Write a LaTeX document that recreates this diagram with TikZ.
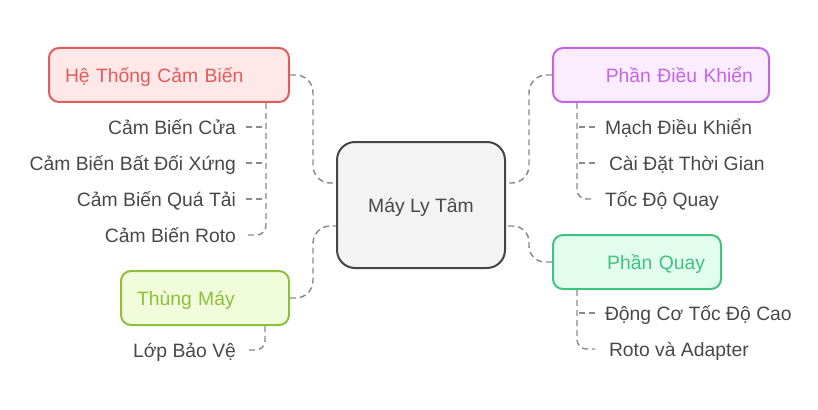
\documentclass[tikz,border=0pt]{standalone}
\usepackage{fontspec}
\setmainfont{Liberation Sans}
\definecolor{txt}{HTML}{484848}
\definecolor{ln}{HTML}{8A8A8A}
\definecolor{redB}{HTML}{E25C5C}\definecolor{redF}{HTML}{FFE8E8}
\definecolor{purB}{HTML}{C565E6}\definecolor{purF}{HTML}{F9EDFF}
\definecolor{grnB}{HTML}{3EC47E}\definecolor{grnF}{HTML}{E2FCEE}
\definecolor{limB}{HTML}{8EBE3C}\definecolor{limF}{HTML}{F1FDDA}
\definecolor{cenB}{HTML}{454545}\definecolor{cenF}{HTML}{F3F3F3}
\begin{document}
\begin{tikzpicture}[x=0.75pt,y=-0.75pt,
  every node/.style={font=\fontsize{14.5pt}{17pt}\selectfont, text height=13pt, text depth=2pt},
  box/.style={draw=#1B, fill=#1F, text=#1B, line width=1.5pt, rounded corners=7.5pt,
     minimum height=40.5pt, inner xsep=12pt},
  leaf/.style={text=txt, inner sep=0pt, outer xsep=7.5pt},
  conn/.style={draw=ln, line width=1.1pt, dash pattern=on 4.5pt off 3pt}]
\useasboundingbox (0,0) rectangle (818,410);
% central
\node[draw=cenB, fill=cenF, text=txt, line width=1.5pt, rounded corners=13.5pt,
  minimum width=126pt, minimum height=94.5pt] (c) at (421,205) {Máy Ly Tâm};
% main branches
\node[box=red, minimum width=180pt, text width=156pt, align=left] (hs) at (169,75) {Hệ Thống Cảm Biến};
\node[box=pur, minimum width=162pt, text width=138pt, align=right] (dk) at (661,75) {Phần Điều Khiển};
\node[box=grn, minimum width=126pt, text width=102pt, align=right] (pq) at (637,262) {Phần Quay};
\node[box=lim, minimum width=126pt, text width=102pt, align=left] (tm) at (205,298) {Thùng Máy};
% center ports and bends
\coordinate (cl1) at ([yshift=16.5pt]c.west);
\coordinate (cl2) at ([yshift=-15.75pt]c.west);
\coordinate (cr1) at ([yshift=16.5pt]c.east);
\coordinate (cr2) at ([yshift=-15.75pt]c.east);
\coordinate (ml) at (313,0);
\coordinate (mr) at (529,0);
\draw[conn, rounded corners=13pt] (hs.east) -- (hs.east -| ml) -- (ml |- cl1) -- (cl1);
\draw[conn, rounded corners=13pt] (tm.east) -- (tm.east -| ml) -- (ml |- cl2) -- (cl2);
\draw[conn, rounded corners=13pt] (dk.west) -- (dk.west -| mr) -- (mr |- cr1) -- (cr1);
\draw[conn, rounded corners=12pt] (pq.west) -- (pq.west -| mr) -- (mr |- cr2) -- (cr2);
% leaves left
\coordinate (vl) at (266,0);
\coordinate (vt) at (265,0);
\node[leaf, anchor=east] (h1) at (246,127) {Cảm Biến Cửa};
\node[leaf, anchor=east] (h2) at (246,163) {Cảm Biến Bất Đối Xứng};
\node[leaf, anchor=east] (h3) at (246,199) {Cảm Biến Quá Tải};
\node[leaf, anchor=east] (h4) at (246,235) {Cảm Biến Roto};
\draw[conn, rounded corners=7pt] (hs.south -| vl) |- (h4.east);
\draw[conn] (h1.east) -- (h1.east -| vl);
\draw[conn] (h2.east) -- (h2.east -| vl);
\draw[conn] (h3.east) -- (h3.east -| vl);
\node[leaf, anchor=east] (t1) at (246,350) {Lớp Bảo Vệ};
\draw[conn, rounded corners=7pt] (tm.south -| vt) |- (t1.east);
% leaves right
\coordinate (vr) at (577,0);
\node[leaf, anchor=west] (d1) at (595,127) {Mạch Điều Khiển};
\node[leaf, anchor=west] (d2) at (595,163) {\hspace{3pt}Cài Đặt Thời Gian};
\node[leaf, anchor=west] (d3) at (595,199) {Tốc Độ Quay};
\draw[conn, rounded corners=7pt] (dk.south -| vr) |- (d3.west);
\draw[conn] (d1.west) -- (d1.west -| vr);
\draw[conn] (d2.west) -- (d2.west -| vr);
\node[leaf, anchor=west] (q1) at (595,313) {Động Cơ Tốc Độ Cao};
\node[leaf, anchor=west] (q2) at (595,349) {\hspace{3pt}Roto và Adapter};
\draw[conn, rounded corners=7pt] (pq.south -| vr) |- (q2.west);
\draw[conn] (q1.west) -- (q1.west -| vr);
\end{tikzpicture}
\end{document}
